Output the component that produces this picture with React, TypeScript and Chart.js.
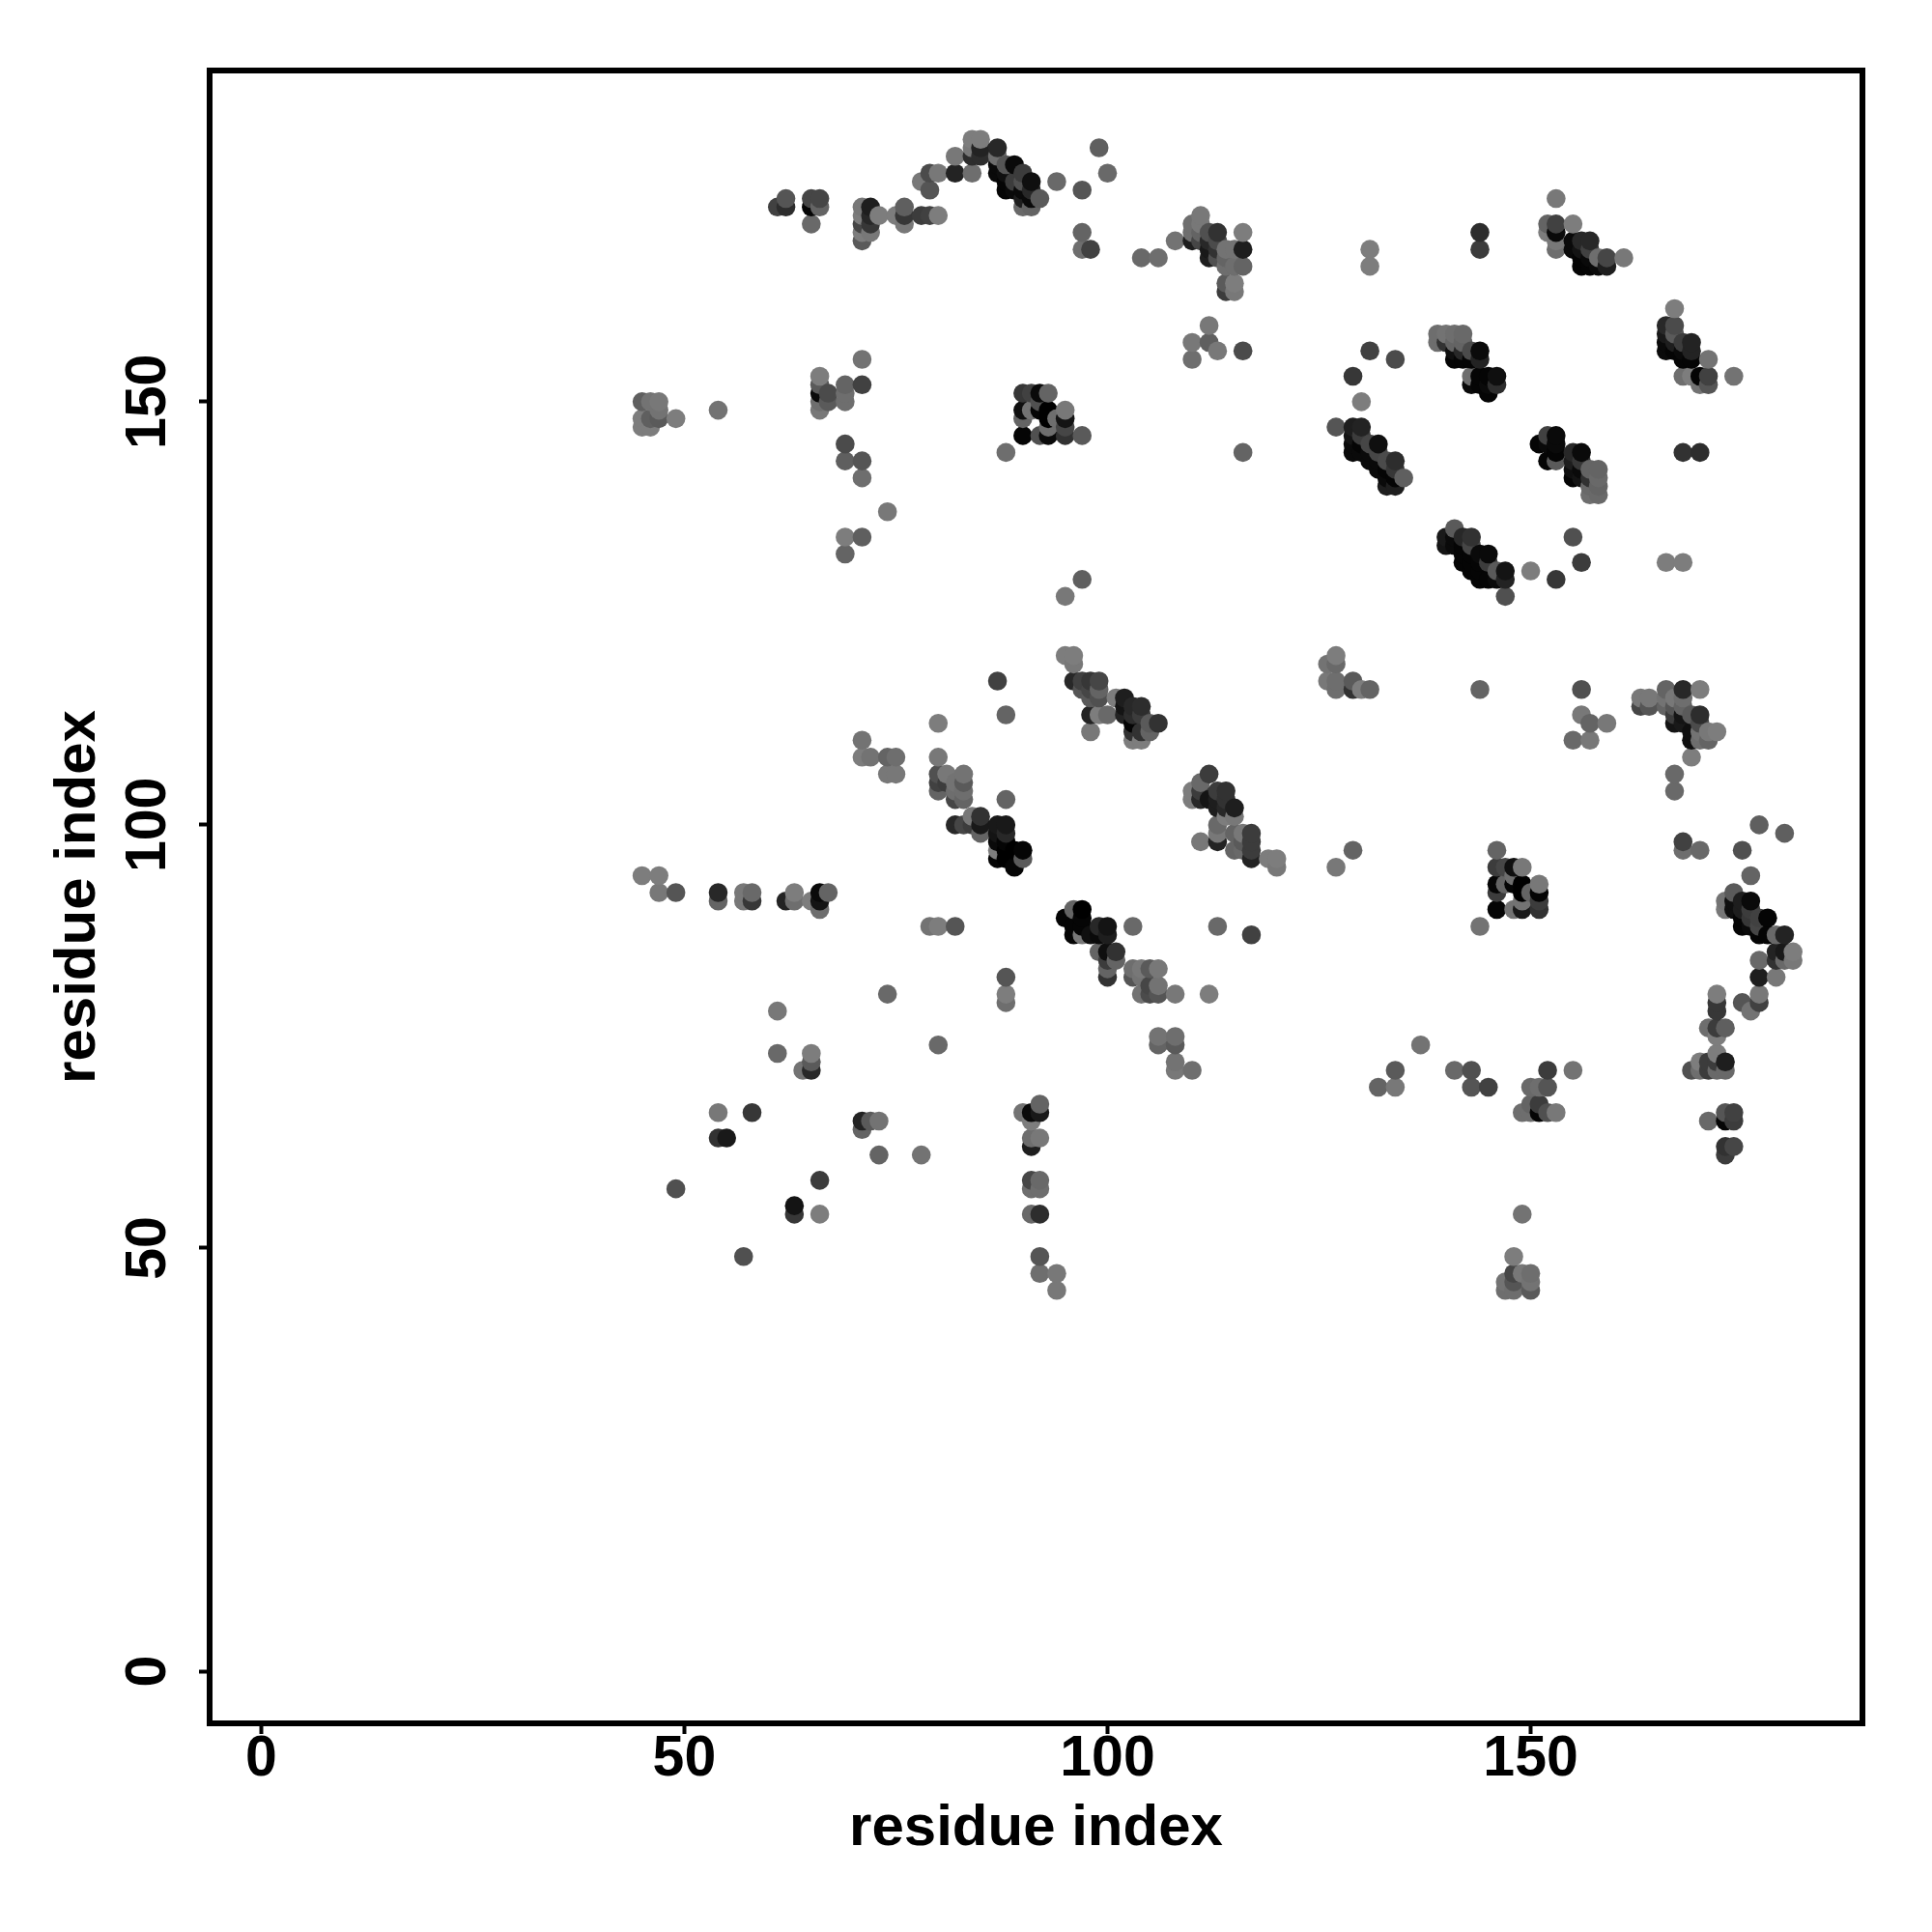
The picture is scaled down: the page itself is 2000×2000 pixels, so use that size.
import React, { useEffect, useRef } from "react";
import { Chart, registerables } from "chart.js";

Chart.register(...registerables);

const axisTicks = [0, 50, 100, 150];
const axisTitle = "residue index";

// Each contact: [residue x, residue y, grey level]
const leftColumn = [
  [45,150,95],[46,150,115],[47,150,120],[47,149,115],[45,148,125],[46,148,95],[47,148,90],[45,147,125],[46,147,125],[49,148,125],[54,149,115],
  [66,153,125],[66,152,90],[66,151,10],[66,150,110],[66,149,120],[67,151,75],[67,150,90],[69,152,100],[69,151,110],[69,150,110],[71,152,65],[71,155,115],[69,145,75],[69,143,95],[71,143,85],[71,141,110],
  [69,134,125],[71,134,95],[69,132,100],[74,137,120],[97,129,95],[95,127,120],
];
const topArc = [
  [61,173,65],[62,174,85],[62,173,45],[65,174,70],[65,173,5],[66,174,70],[66,173,100],[65,171,105],
  [71,173,120],[71,172,125],[71,171,70],[71,170,125],[71,169,90],[72,173,30],[72,172,40],[72,171,55],[72,170,120],[73,172,125],[75,172,125],[76,173,95],[76,172,55],[76,171,120],[78,172,60],[79,172,65],[80,172,125],
  [78,176,120],[79,177,75],[79,175,85],[80,177,120],[82,177,35],[84,177,110],[82,179,120],[84,181,125],[85,181,125],[84,180,120],[84,179,45],[85,180,35],[85,179,45],
  [87,180,40],[87,179,110],[87,178,10],[87,177,10],[88,178,85],[88,177,15],[88,176,5],[88,175,5],[89,178,10],[89,176,60],[89,175,10],[90,177,60],[90,176,80],[90,175,10],[91,176,15],[91,175,40],[91,174,10],[92,174,90],[90,174,30],[90,173,105],[91,173,100],[94,176,105],
  [97,175,85],[100,177,105],[99,180,95],[97,170,100],[97,168,110],[98,168,65],
];
const upperMiddle = [
  [104,167,105],[106,167,110],[108,169,115],
  [110,171,110],[110,170,110],[110,169,30],[111,172,120],[111,171,120],[111,170,100],[111,169,70],[112,170,80],[112,169,40],[112,168,25],[112,167,30],[113,170,50],[113,169,75],[113,168,50],[113,167,80],[114,168,115],[114,167,100],[114,166,110],[115,168,115],[115,166,110],[116,170,125],[116,168,30],[116,166,100],[114,164,90],[114,163,60],[115,164,125],[115,163,120],
  [131,168,125],[131,166,125],[112,159,120],[110,157,120],[112,157,95],[113,156,120],[110,155,110],[116,156,75],[116,144,100],
  [90,151,55],[91,151,65],[92,151,10],[93,151,100],[90,149,15],[91,149,115],[90,148,100],[92,150,80],[92,149,5],[93,149,0],[93,148,0],[94,148,110],[95,149,120],[95,148,20],[95,147,70],[95,146,50],[93,147,110],[90,146,5],[92,146,80],[93,146,10],[97,146,90],[88,144,110],
];
const ringContacts = [
  [131,156,65],[134,155,75],[129,153,55],[130,150,125],[127,147,85],
  [129,147,30],[130,147,35],[129,146,20],[129,145,10],[129,144,10],[130,146,60],[130,145,5],[130,144,10],[131,145,70],[131,144,10],[131,143,10],[132,145,15],[132,144,70],[132,143,10],[132,142,10],[133,143,75],[133,142,5],[133,141,10],[134,143,45],[134,142,55],[134,141,5],[134,140,30],[133,140,30],[135,141,95],
  [139,158,110],[140,158,115],[141,158,110],[142,158,105],[139,157,110],[140,157,50],[141,157,100],[142,157,100],[141,156,15],[141,155,5],[142,155,5],[142,156,40],[143,156,75],[144,156,10],[143,155,5],[144,155,35],
  [143,153,110],[144,153,5],[145,153,5],[146,153,15],[143,152,10],[144,152,5],[145,152,10],[146,152,45],[145,151,5],
  [144,170,45],[144,168,60],
  [141,135,90],[140,134,25],[140,133,20],[141,134,10],[141,133,10],[142,134,40],[143,134,50],[142,133,5],[143,133,70],[142,132,5],[142,131,5],[143,132,5],[143,131,5],[144,132,10],[145,132,10],[144,131,5],[145,131,60],[143,130,5],[144,130,5],[144,129,5],[145,129,5],[146,130,90],[147,130,20],[146,129,10],[147,129,35],[147,127,80],
  [151,145,5],[152,146,65],[153,146,10],[153,145,10],[152,145,10],[152,143,5],[153,144,5],[153,143,90],
  [155,144,40],[156,144,10],[155,143,30],[156,143,55],[155,142,15],[155,141,5],[156,141,20],[156,142,10],[157,142,100],[158,142,100],[157,141,50],[158,141,105],[157,140,105],[158,140,100],[157,139,110],[158,139,105],
  [155,134,80],[156,131,60],[153,129,55],[150,130,125],[166,131,125],[168,131,125],[168,144,50],[170,144,45],
];
const upperRight = [
  [153,174,120],[152,171,100],[153,171,65],[155,171,125],[152,170,125],[153,170,10],[153,169,120],[153,168,110],
  [155,169,10],[156,169,40],[157,169,40],[155,168,10],[156,168,20],[157,168,65],[156,167,5],[156,166,5],[157,167,10],[157,166,5],[158,167,110],[158,166,10],[159,167,70],[159,166,30],[161,167,120],
  [167,161,125],[166,159,40],[167,159,75],[166,158,25],[166,157,10],[166,156,10],[167,158,90],[167,157,30],[167,156,5],[168,157,60],[168,156,10],[168,155,5],[169,157,35],[169,156,35],[169,155,5],[171,155,115],[168,153,110],[169,153,125],[170,153,5],[171,153,65],[170,152,115],[171,152,85],[174,153,115],
];
const middleBand = [
  [127,120,125],[126,119,115],[127,119,105],[126,117,120],[127,117,110],[127,116,110],[129,117,90],[129,116,50],[130,116,125],[131,116,100],
  [144,116,100],[156,116,80],[156,113,120],[157,112,100],[159,112,120],[155,110,105],[157,110,120],
  [163,115,120],[164,115,120],[163,114,70],[164,114,85],[166,116,100],[168,116,40],[170,116,125],[166,115,115],[167,115,120],[168,115,110],[166,114,100],[167,114,85],[168,114,100],[167,113,60],[168,113,20],[167,112,20],[168,112,25],[169,113,90],[170,113,45],[169,111,15],[170,112,75],[170,111,115],[171,111,120],[172,111,125],[169,110,15],[170,110,110],[171,110,100],[169,108,125],[167,106,105],[167,104,105],
  [168,98,65],[168,97,110],[170,97,105],[175,97,80],[177,100,95],[180,99,95],[176,94,100],[129,97,100],[127,95,120],
  [146,97,100],[146,95,60],[147,95,70],[148,95,15],[149,95,120],[146,93,5],[147,93,100],[148,93,5],[149,93,0],[151,93,120],[146,92,60],[149,92,0],[150,92,100],[151,92,5],[148,94,110],[151,91,60],[146,90,5],[148,90,115],[149,90,25],[149,91,115],[151,90,50],[144,88,115],
];
const lowerRight = [
  [174,92,90],[173,91,115],[173,90,120],[174,91,15],[174,90,15],[175,91,30],[176,91,10],[175,90,30],[176,90,60],[175,89,5],[176,89,55],[175,88,5],[176,88,10],[177,89,65],[178,89,5],[177,88,70],[177,87,5],[178,87,5],[179,87,105],[180,87,35],
  [179,85,35],[180,85,25],[181,85,125],[179,84,50],[180,84,105],[181,84,120],[177,84,105],[177,82,30],[179,82,120],
  [175,79,85],[177,80,120],[177,79,65],[176,78,115],[172,80,125],[172,79,55],[172,78,55],[171,76,110],[172,76,60],[173,76,95],[172,75,125],
  [172,73,125],[173,72,30],[172,72,60],[171,72,60],[170,72,125],[169,71,80],[170,71,110],[171,71,60],[172,71,105],[173,71,105],
  [171,65,105],[173,66,85],[174,66,65],[173,65,5],[174,65,60],[173,62,50],[174,62,70],[173,61,60],
  [137,74,115],[134,71,90],[132,69,100],[134,69,120],[141,71,105],[143,71,80],[143,69,85],[145,69,65],[152,71,60],[155,71,115],[150,69,105],[151,69,110],[152,69,85],[150,67,100],[151,67,60],[149,66,110],[150,66,110],[151,66,5],[152,66,80],[153,66,120],
  [149,54,115],[148,49,125],[148,47,70],[149,47,120],[150,47,110],[147,46,115],[148,46,85],[150,46,115],[147,45,110],[148,45,110],[150,45,90],
];
const centerDiagonal = [
  [87,117,65],[88,113,100],[88,103,100],[95,120,125],[96,120,125],[96,119,120],
  [96,117,40],[97,117,65],[98,117,55],[99,117,70],[97,116,85],[98,116,70],[99,116,100],[98,115,90],[99,115,80],[98,113,35],[99,113,125],[100,113,105],[98,111,120],[101,115,125],
  [102,115,30],[102,114,20],[102,113,35],[103,114,40],[104,114,45],[103,113,45],[104,113,60],[103,112,5],[103,111,50],[104,111,50],[105,112,90],[106,112,50],[105,111,100],[103,110,125],[104,110,125],
  [112,106,60],[111,105,105],[110,104,125],[110,103,125],[111,104,60],[111,103,40],[112,103,20],[113,104,60],[114,104,50],[114,102,40],[115,102,30],[114,103,50],[113,103,30],[113,102,30],[114,101,125],[115,101,120],[113,100,105],[113,99,120],[111,98,120],[113,98,35],[115,99,100],[116,99,120],[117,99,60],[116,98,90],[117,98,60],
  [117,97,60],[115,97,100],[116,97,105],[117,96,35],[119,96,125],[120,96,125],[120,95,120],
  [95,89,5],[96,90,100],[97,90,0],[97,89,5],[96,87,5],[97,88,5],[96,88,5],[97,87,120],[98,87,15],[99,88,40],[100,88,20],[99,87,10],[100,87,30],[103,88,105],[113,88,105],[117,87,65],
  [99,85,100],[100,85,15],[101,85,50],[101,84,100],[100,84,60],[100,83,100],[100,82,50],
  [103,83,110],[104,83,120],[105,83,90],[106,83,120],[103,82,85],[104,82,115],[105,81,70],[106,81,115],[104,80,115],[105,80,75],[106,80,85],[108,80,120],[112,80,125],
  [106,75,115],[108,75,110],[106,74,100],[108,74,90],[108,72,115],[108,71,120],[110,71,110],
];
const lowerLeft = [
  [45,94,125],[47,94,125],[47,92,120],[49,92,85],[54,92,40],[54,91,100],[57,92,120],[57,91,120],[58,92,105],[58,91,55],[62,91,35],[63,92,125],[63,91,110],[65,91,125],[66,92,10],[66,91,20],[67,92,100],[66,90,110],
  [71,110,115],[71,108,125],[72,108,115],[74,108,100],[75,108,110],[74,106,120],[75,106,120],[80,112,125],[80,108,120],
  [80,106,80],[81,106,120],[80,105,65],[81,105,60],[80,104,100],[83,106,115],[83,105,90],[82,105,115],[82,104,110],[83,104,110],[82,103,70],[83,103,100],
  [82,100,40],[83,100,70],[84,101,120],[84,100,60],[85,101,50],[85,100,25],[85,99,100],
  [87,100,25],[88,100,25],[87,99,20],[88,99,40],[87,98,10],[88,98,5],[87,97,125],[87,96,5],[88,97,0],[88,96,0],[89,95,5],[89,97,0],[90,97,5],[90,96,90],
  [79,88,115],[80,88,125],[82,88,85],[88,82,85],[88,80,125],[88,79,110],
  [74,80,105],[61,78,120],[61,73,105],[80,74,105],[65,73,125],[65,72,90],[64,71,115],[65,71,40],
  [54,66,120],[58,66,55],[54,63,50],[55,63,25],[71,65,35],[72,65,90],[73,65,115],[71,64,100],[73,61,100],[78,61,115],
  [92,67,100],[90,66,115],[91,66,10],[92,66,25],[91,65,125],[91,63,110],[92,63,120],[91,62,30],
  [91,58,70],[92,58,105],[91,57,110],[92,57,110],[91,54,105],[92,54,45],[92,49,85],[92,47,110],[94,47,120],[94,45,120],
  [66,58,60],[49,57,80],[63,55,20],[63,54,55],[66,54,125],[57,49,80],
];

const contacts = [
  ...leftColumn, ...topArc, ...upperMiddle, ...ringContacts, ...upperRight,
  ...middleBand, ...lowerRight, ...centerDiagonal, ...lowerLeft,
].sort((a, b) => a[0] - b[0] || a[1] - b[1]);

const FONT = "'Liberation Sans', Arial, sans-serif";

const frame = {
  id: "frame",
  afterDatasetsDraw(chart: any) {
    const { ctx, chartArea: a } = chart;
    ctx.save();
    ctx.strokeStyle = "#000";
    ctx.lineWidth = 6;
    ctx.strokeRect(a.left, a.top, a.right - a.left, a.bottom - a.top);
    ctx.restore();
  },
};

function axis(min: number, max: number, size: number, rotation: number, padding: number, titlePad: any, crossAlign: string) {
  return {
    type: "linear",
    min,
    max,
    afterBuildTicks(scale: any) {
      scale.ticks = axisTicks.map((value) => ({ value }));
    },
    afterFit(scale: any) {
      if (scale.isHorizontal()) scale.height = size;
      else scale.width = size;
    },
    grid: { drawOnChartArea: false, drawTicks: true, tickLength: 11, tickWidth: 4, tickColor: "#000" },
    border: { display: false },
    ticks: {
      color: "#000",
      font: { family: FONT, weight: "bold", size: 59 },
      padding,
      minRotation: rotation,
      maxRotation: rotation,
      autoSkip: false,
      align: "center",
      crossAlign,
    },
    title: {
      display: true,
      text: axisTitle,
      color: "#000",
      font: { family: FONT, weight: "bold", size: 60 },
      padding: titlePad,
    },
  };
}

export default function App() {
  const ref = useRef<HTMLCanvasElement>(null);
  useEffect(() => {
    const chart = new Chart(ref.current as any, {
      type: "scatter",
      data: {
        datasets: [
          {
            data: contacts.map((c) => ({ x: c[0], y: c[1] })),
            backgroundColor: contacts.map((c) => `rgb(${c[2]},${c[2]},${c[2]})`),
            borderWidth: 0,
            pointRadius: 9.8,
            pointHoverRadius: 9.8,
            clip: false,
          },
        ],
      },
      options: {
        animation: false,
        responsive: false,
        layout: { padding: { top: 73, right: 72, left: 0, bottom: 0 } },
        plugins: { legend: { display: false }, tooltip: { enabled: false } },
        scales: {
          x: axis(-6.09, 189.2, 216, 0, -9, { top: 0, bottom: 71 }, "near"),
          y: axis(-6.16, 189.13, 217, 90, 2, { top: 45, bottom: 0 }, "center"),
        },
      } as any,
      plugins: [frame],
    });
    return () => chart.destroy();
  }, []);
  return (
    <div style={{ position: "absolute", left: 0, top: 0, width: 2000, height: 2000, background: "#fff" }}>
      <canvas ref={ref} width={2000} height={2000} style={{ display: "block" }} />
    </div>
  );
}
